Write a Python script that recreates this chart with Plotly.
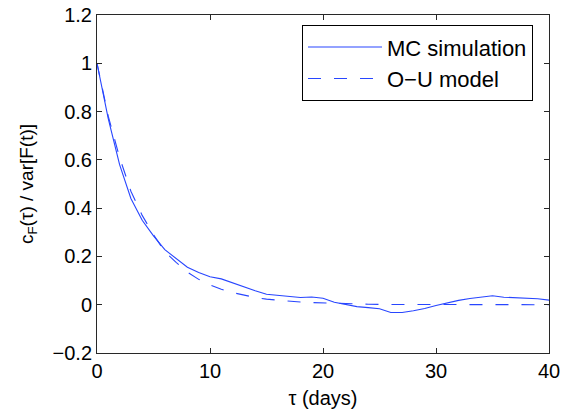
import plotly.graph_objects as go

tau_mc = [0, 1, 2, 3, 4, 5, 6, 7, 8, 9, 10, 11, 12, 13, 14, 15, 16, 17, 18, 19, 20,
          21, 22, 23, 24, 25, 26, 27, 28, 29, 30, 31, 32, 33, 34, 35, 36, 37, 38, 39, 40]
mc_sim = [1.0, 0.77, 0.58, 0.44, 0.35, 0.285, 0.228, 0.19, 0.155, 0.133, 0.116, 0.107,
          0.09, 0.072, 0.058, 0.043, 0.038, 0.036, 0.030, 0.032, 0.027, 0.010, 0.0,
          -0.008, -0.012, -0.017, -0.032, -0.032, -0.025, -0.016, -0.003, 0.008, 0.018,
          0.026, 0.032, 0.037, 0.031, 0.029, 0.028, 0.025, 0.019]

tau_ou = [0, 1, 2, 3, 4, 5, 6, 7, 8, 9, 10, 11, 12, 13, 14, 15, 16, 17, 18, 19, 20,
          22, 24, 26, 28, 30, 32, 34, 36, 38, 40]
ou_model = [1.0, 0.78, 0.61, 0.47, 0.37, 0.29, 0.22, 0.175, 0.135, 0.105, 0.082, 0.064,
            0.05, 0.039, 0.030, 0.023, 0.018, 0.014, 0.011, 0.009, 0.007, 0.004, 0.002,
            0.001, 0.0005, 0.0, 0.0, 0.0, 0.0, 0.0, 0.0]

y_ticks = [-0.2, 0, 0.2, 0.4, 0.6, 0.8, 1, 1.2]
y_ticktext = ["\u22120.2", "0", "0.2", "0.4", "0.6", "0.8", "1", "1.2"]
x_ticks = [0, 10, 20, 30, 40]

blue = "rgb(40,70,255)"
fig = go.Figure()
fig.add_trace(go.Scatter(x=tau_mc, y=mc_sim, mode="lines", name="MC simulation",
                         line=dict(color=blue, width=1.1)))
fig.add_trace(go.Scatter(x=tau_ou, y=ou_model, mode="lines", name="O\u2212U model",
                         line=dict(color=blue, width=1.1, dash="13px,13px")))

axis_common = dict(showline=True, linecolor="rgb(40,40,40)", linewidth=1, mirror="ticks",
                   ticks="inside", ticklen=5, tickcolor="rgb(40,40,40)", showgrid=False,
                   zeroline=False, automargin=False, ticklabeloverflow="allow",
                   tickfont=dict(size=20, color="black"))
fig.update_xaxes(range=[0, 40], tickvals=x_ticks,
                 title=dict(text="\u03c4 (days)", font=dict(size=20, color="black"), standoff=9),
                 **axis_common)
fig.update_yaxes(range=[-0.2, 1.2], tickvals=y_ticks, ticktext=y_ticktext,
                 title=dict(text="c<sub>F</sub>(\u03c4) / var[F(t)]",
                            font=dict(size=19, color="black"), standoff=13),
                 **axis_common)
fig.update_layout(
    width=562, height=413,
    margin=dict(l=97, r=13, t=15, b=60),
    plot_bgcolor="white", paper_bgcolor="white",
    font=dict(family="Liberation Sans, Arial, sans-serif", size=20, color="black"),
    legend=dict(x=0.4535, y=0.97, xanchor="left", yanchor="top",
                bordercolor="black", borderwidth=1, bgcolor="white",
                font=dict(size=22), itemwidth=74, tracegroupgap=0),
)
# remove the browser's default 8px page margin so the figure sits at the window origin
fig.write_html("out.html", config={"displayModeBar": False},
               post_script="document.body.style.margin='0';document.body.style.overflow='hidden';")
